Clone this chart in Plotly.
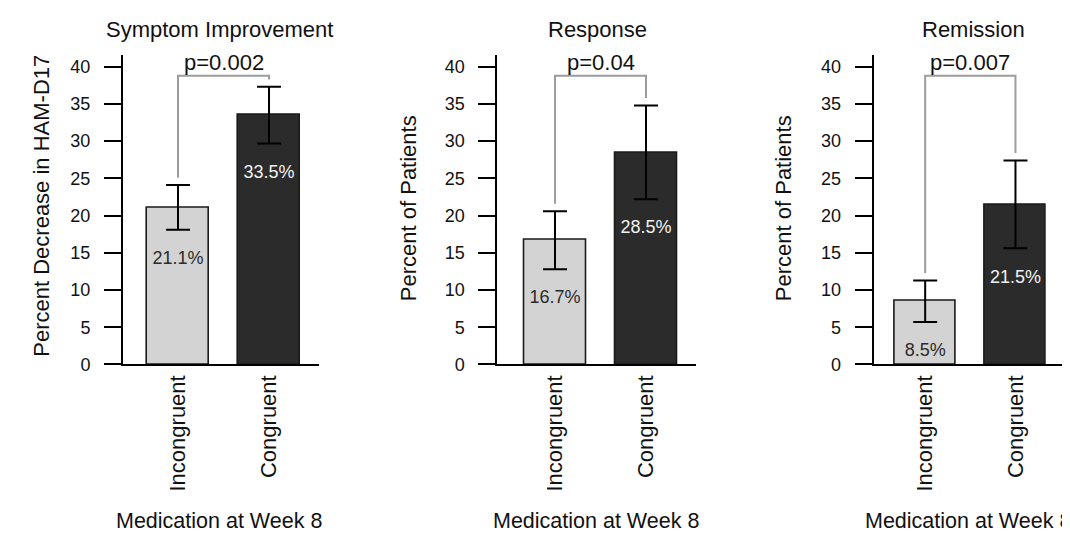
import plotly.graph_objects as go

# ---- data ----
categories = ["Incongruent", "Congruent"]
panel_titles = ["Symptom Improvement", "Response", "Remission"]
y_titles = ["Percent Decrease in HAM-D17", "Percent of Patients", "Percent of Patients"]
x_title = "Medication at Week 8"
means_symptom = [21.1, 33.5]
errs_symptom = [3.0, 3.8]
means_response = [16.7, 28.5]
errs_response = [3.9, 6.3]
means_remission = [8.5, 21.5]
errs_remission = [2.8, 5.9]
p_values = ["p=0.002", "p=0.04", "p=0.007"]
y_ticks = [0, 5, 10, 15, 20, 25, 30, 35, 40]
bracket_top = 38.8
bracket_gap = 1.0
label_gap = 4.0

means = [means_symptom, means_response, means_remission]
errs = [errs_symptom, errs_response, errs_remission]

W, H = 1070, 534
FONT = "Liberation Sans, Arial, Helvetica, sans-serif"
fill_colors = ["#d3d3d3", "#2b2b2b"]
label_colors = ["#2b2b2b", "#f2f2f2"]

# pixel layout
y0_px, ytop_px = 363.3, 47.7
ymax = 41.6
x_domains_px = [(115, 311), (489.3, 688), (865.7, 1063)]
x_ranges = [[-0.604, 1.549], [-0.634, 1.549], [-0.570, 1.615]]
ytitle_x_px = [34, 400, 775]
ytitle_y_px = [201.5, 204, 204]
title_x_px = [211, 589, 966]
xtitle_x_px = [211, 588, 960]

fig = go.Figure()
for i in range(3):
    xa = "x" if i == 0 else f"x{i+1}"
    ya = "y" if i == 0 else f"y{i+1}"
    m, e = means[i], errs[i]
    fig.add_trace(go.Bar(
        x=[0, 1], y=m, width=0.68, xaxis=xa, yaxis=ya,
        marker=dict(color=fill_colors, line=dict(color="#1a1a1a", width=1.6)),
        error_y=dict(type="data", array=e, visible=True, color="black", thickness=2, width=12),
        showlegend=False, hoverinfo="skip"))
    # value labels
    fig.add_trace(go.Scatter(
        x=[0, 1], y=[m[k] - e[k] - label_gap for k in range(2)], xaxis=xa, yaxis=ya,
        mode="text", text=[f"{v}%" for v in m],
        textfont=dict(family=FONT, size=18, color=label_colors),
        showlegend=False, hoverinfo="skip"))
    # significance bracket
    leg0 = m[0] + e[0] + bracket_gap
    leg1 = m[1] + e[1] + bracket_gap
    fig.add_trace(go.Scatter(
        x=[0, 0, 1, 1], y=[leg0, bracket_top, bracket_top, leg1], xaxis=xa, yaxis=ya,
        mode="lines", line=dict(color="#9c9c9c", width=2),
        showlegend=False, hoverinfo="skip"))

layout = dict(
    width=W, height=H, margin=dict(l=0, r=0, t=0, b=0),
    paper_bgcolor="white", plot_bgcolor="white",
    font=dict(family=FONT, color="#111111"),
    bargap=0,
)
annotations = []
for i in range(3):
    sx = "" if i == 0 else str(i + 1)
    d0, d1 = x_domains_px[i]
    layout["xaxis" + sx] = dict(
        domain=[d0 / W, d1 / W], range=x_ranges[i],
        tickvals=[0, 1], ticktext=categories, tickangle=-90,
        tickfont=dict(family=FONT, size=22, color="#111111"),
        showline=True, linecolor="black", linewidth=2, ticks="",
        showgrid=False, zeroline=False, anchor="y" + sx, fixedrange=True)
    layout["yaxis" + sx] = dict(
        domain=[1 - y0_px / H, 1 - ytop_px / H], range=[0, ymax],
        tickvals=y_ticks, ticks="outside", ticklen=17, tickwidth=2, tickcolor="black",
        ticklabelstandoff=10,
        tickfont=dict(family=FONT, size=18, color="#111111"),
        showline=True, linecolor="black", linewidth=2,
        showgrid=False, zeroline=False, anchor="x" + sx, fixedrange=True)
    annotations.append(dict(text=panel_titles[i], x=title_x_px[i] / W, y=1 - 22 / H, xref="paper", yref="paper",
                            showarrow=False, xanchor="center", yanchor="middle",
                            font=dict(family=FONT, size=22, color="#111111")))
    annotations.append(dict(text=p_values[i], x=0.5, y=1 - 56 / H, xref="x" + sx, yref="paper",
                            showarrow=False, xanchor="center", yanchor="middle",
                            font=dict(family=FONT, size=22, color="#111111")))
    annotations.append(dict(text=y_titles[i], x=ytitle_x_px[i] / W, y=1 - ytitle_y_px[i] / H,
                            xref="paper", yref="paper", showarrow=False, textangle=-90,
                            xanchor="center", yanchor="middle",
                            font=dict(family=FONT, size=22, color="#111111")))
    annotations.append(dict(text=x_title, x=xtitle_x_px[i] / W, y=1 - 523 / H, xref="paper", yref="paper",
                            showarrow=False, xanchor="center", yanchor="middle",
                            font=dict(family=FONT, size=21.5, color="#111111")))
layout["annotations"] = annotations
fig.update_layout(**layout)
fig.write_html("out.html")
